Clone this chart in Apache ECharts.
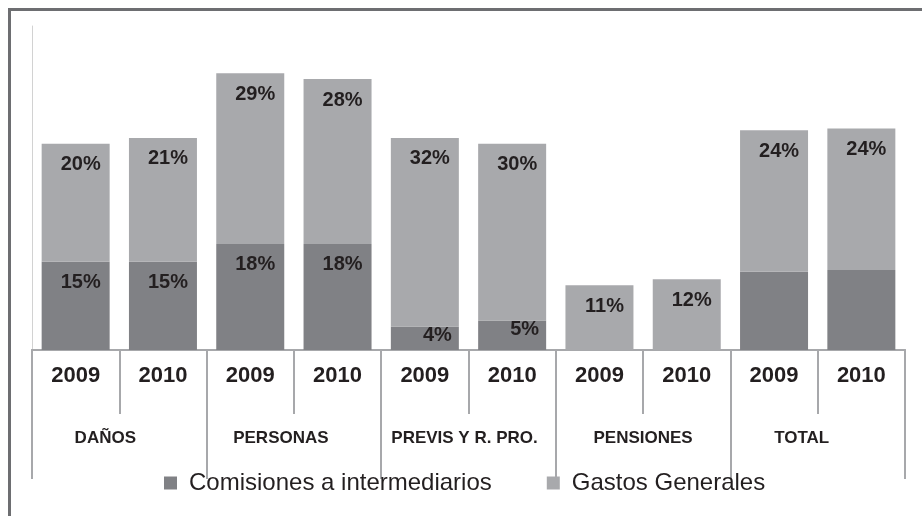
<!DOCTYPE html>
<html lang="es" style="height: 100%">
<head>
  <meta charset="utf-8">
</head>
<body style="height: 100%; margin: 0; background: #fff">
  <div id="container" style="width: 922px; height: 516px"></div>

  <script type="text/javascript" src="https://cdn.jsdelivr.net/npm/echarts@6/dist/echarts.min.js"></script>

  <script type="text/javascript">
    // datos
    var years = ['2009', '2010', '2009', '2010', '2009', '2010', '2009', '2010', '2009', '2010'];
    var groups = ['DAÑOS', 'PERSONAS', 'PREVIS Y R. PRO.', 'PENSIONES', 'TOTAL'];
    var comisiones = [15, 15, 18, 18, 4, 5, 0, 0, 13.3, 13.6];
    var gastos = [20, 21, 29, 28, 32, 30, 11, 12, 24, 24];
    // barras sin etiqueta en la serie de comisiones (TOTAL)
    var sinEtiqueta = [8, 9];
    // etiquetas pequeñas que van a la derecha
    var etiquetaDerecha = [4, 5];

    var dark = '#808185';
    var light = '#a8a9ac';
    var axisColor = '#a7a8ab';
    var txt = '#231f20';

    var dom = document.getElementById('container');
    var myChart = echarts.init(dom, null, { renderer: 'canvas' });

    var groupShift = [28, 26, 8, 0, 32];

    var comData = comisiones.map(function (v, i) {
      var item = { value: v };
      if (sinEtiqueta.indexOf(i) >= 0 || v === 0) {
        item.label = { show: false };
      } else if (etiquetaDerecha.indexOf(i) >= 0) {
        item.label = { position: 'insideTopRight', distance: 5, offset: [-2, -6] };
      }
      return item;
    });

    var labelStyle = {
      show: true,
      position: 'insideTop',
      distance: 11,
      offset: [5, 0],
      formatter: '{c}%',
      fontFamily: 'Liberation Sans',
      fontWeight: 'bold',
      fontSize: 20,
      color: txt
    };

    var option = {
      animation: false,
      graphic: [{
        type: 'rect',
        shape: { x: 9.5, y: 9.5, width: 1000, height: 1000 },
        style: { fill: 'none', stroke: '#6d6e71', lineWidth: 3 }
      }],
      grid: { left: 32, right: 17, top: 26, bottom: 166 },
      legend: {
        left: 159,
        top: 466,
        icon: 'rect',
        itemWidth: 13,
        itemHeight: 13,
        itemGap: 55,
        textStyle: {
          fontFamily: 'Liberation Sans',
          fontSize: 24,
          color: txt,
          padding: [0, 0, 0, 7]
        },
        data: ['Comisiones a intermediarios', 'Gastos Generales']
      },
      xAxis: [{
        type: 'category',
        data: years,
        position: 'bottom',
        axisLine: { show: true, onZero: false, lineStyle: { color: axisColor, width: 2 } },
        axisTick: { show: true, interval: 0, length: 64, lineStyle: { color: axisColor, width: 2 } },
        axisLabel: {
          interval: 0,
          margin: 15,
          fontFamily: 'Liberation Sans',
          fontWeight: 'bold',
          fontSize: 22,
          color: txt
        }
      }, {
        type: 'category',
        data: groups.map(function (g, i) {
          return { value: g, textStyle: { padding: [0, groupShift[i], 0, 0] } };
        }),
        position: 'bottom',
        axisLine: { show: true, onZero: false, lineStyle: { color: axisColor, width: 2 } },
        axisTick: { show: true, interval: 0, length: 129, lineStyle: { color: axisColor, width: 2 } },
        axisLabel: {
          interval: 0,
          margin: 80,
          fontFamily: 'Liberation Sans',
          fontWeight: 'bold',
          fontSize: 17,
          color: txt
        }
      }],
      yAxis: {
        type: 'value',
        min: 0,
        max: 55,
        axisLine: { show: true, lineStyle: { color: '#d2d2d2', width: 1 } },
        axisTick: { show: false },
        axisLabel: { show: false },
        splitLine: { show: false }
      },
      series: [{
        name: 'Comisiones a intermediarios',
        type: 'bar',
        stack: 'total',
        barWidth: 68,
        itemStyle: { color: dark },
        label: labelStyle,
        data: comData
      }, {
        name: 'Gastos Generales',
        type: 'bar',
        stack: 'total',
        barWidth: 68,
        itemStyle: { color: light },
        label: labelStyle,
        data: gastos
      }]
    };

    myChart.setOption(option);
    window.addEventListener('resize', myChart.resize);
  </script>
</body>
</html>
